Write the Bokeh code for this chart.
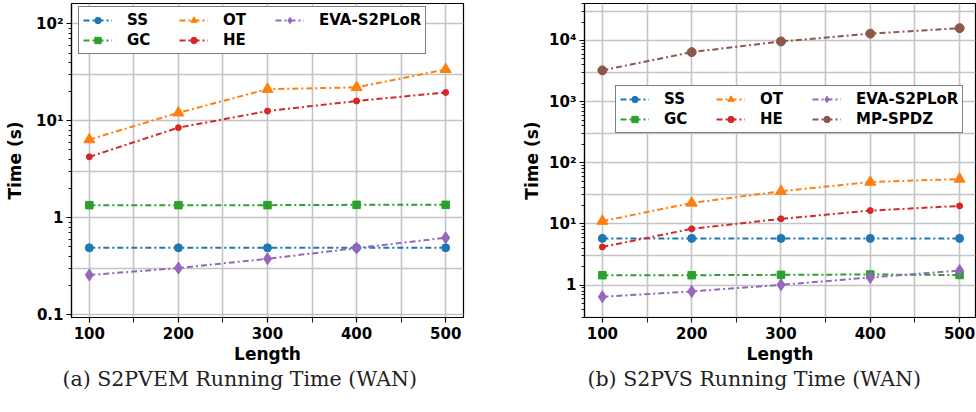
from bokeh.plotting import figure
from bokeh.layouts import row
from bokeh.models import FixedTicker, Legend, LegendItem, Title, Range1d
from bokeh.embed import file_html
from bokeh.resources import INLINE

# ---------------- data ----------------
lengths = [100, 200, 300, 400, 500]
x_ticks = [100, 200, 300, 400, 500]
x_minor = [150, 250, 350, 450]

series_names = ["SS", "GC", "OT", "HE", "EVA-S2PLoR", "MP-SPDZ"]

# (a) S2PVEM Running Time (WAN)
a_ss = [0.49, 0.49, 0.49, 0.49, 0.49]
a_gc = [1.35, 1.35, 1.35, 1.36, 1.36]
a_ot = [6.4, 12.1, 21.2, 22.1, 33.9]
a_he = [4.25, 8.5, 12.6, 16.0, 19.6]
a_eva = [0.257, 0.303, 0.378, 0.487, 0.622]

# (b) S2PVS Running Time (WAN)
b_ss = [5.8, 5.8, 5.8, 5.8, 5.8]
b_gc = [1.45, 1.45, 1.47, 1.49, 1.46]
b_ot = [11.1, 22.0, 34.2, 48.4, 54.2]
b_he = [4.2, 8.3, 12.1, 16.5, 19.7]
b_eva = [0.644, 0.787, 1.01, 1.33, 1.73]
b_mp = [3240, 6440, 9630, 12900, 15900]

a_ytick_vals = [0.1, 1, 10, 100]
a_ytick_labels = ["0.1", "1", "10\u00b9", "10\u00b2"]
b_ytick_vals = [1, 10, 100, 1000, 10000]
b_ytick_labels = ["1", "10\u00b9", "10\u00b2", "10\u00b3", "10\u2074"]

caption_a = "(a) S2PVEM Running Time (WAN)"
caption_b = "(b) S2PVS Running Time (WAN)"
x_label = "Length"
y_label = "Time (s)"

# ---------------- style ----------------
COLORS = {"SS": "#1f77b4", "GC": "#2ca02c", "OT": "#ff7f0e", "HE": "#d62728",
          "EVA-S2PLoR": "#9467bd", "MP-SPDZ": "#8c564b"}
MARKERS = {"SS": ("circle", 8), "GC": ("square", 7.5), "OT": ("triangle", 11),
           "HE": ("circle", 6), "EVA-S2PLoR": ("diamond", 12), "MP-SPDZ": ("circle", 9)}
DASH = "6 3 2 3"
FONT = "DejaVu Sans"
GRID_COLOR = "#c4c4c4"


def log_minor(lo, hi):
    out = []
    for e in range(-3, 7):
        for m in range(2, 10):
            v = m * 10.0 ** e
            if lo <= v <= hi:
                out.append(v)
    return out


def log_grid(lo, hi):
    out = []
    for e in range(-3, 7):
        for m in (1, 3):
            v = m * 10.0 ** e
            if lo <= v <= hi:
                out.append(v)
    return out


def make_panel(series, yr, ytick_vals, ytick_labels, xr, fw, fh, bl, br,
               caption, cap_offset, leg_loc, ylabel_standoff):
    p = figure(frame_width=fw, frame_height=fh, y_axis_type="log",
               x_range=Range1d(*xr), y_range=Range1d(*yr),
               min_border_left=bl, min_border_right=br, min_border_top=3,
               min_border_bottom=77, toolbar_location=None,
               output_backend="svg", background_fill_color="white",
               border_fill_color="white")
    p.outline_line_color = "black"
    p.outline_line_width = 1.2

    p.xaxis.ticker = FixedTicker(ticks=x_ticks, minor_ticks=x_minor)
    p.xgrid.ticker = FixedTicker(ticks=sorted(x_ticks + x_minor))
    p.yaxis.ticker = FixedTicker(ticks=ytick_vals, minor_ticks=log_minor(*yr))
    p.ygrid.ticker = FixedTicker(ticks=log_grid(*yr))
    p.yaxis.major_label_overrides = dict(zip(ytick_vals, ytick_labels))

    for g in (p.xgrid, p.ygrid):
        g.grid_line_color = GRID_COLOR
        g.grid_line_width = 1.6

    for ax in (p.xaxis, p.yaxis):
        ax.axis_line_color = "black"
        ax.axis_line_width = 1.2
        ax.major_tick_line_color = "black"
        ax.minor_tick_line_color = "black"
        ax.major_tick_line_width = 1.2
        ax.minor_tick_line_width = 0.9
        ax.major_tick_in = 0
        ax.minor_tick_in = 0
        ax.major_tick_out = 5
        ax.major_label_text_font = FONT
        ax.major_label_text_font_style = "bold"
        ax.major_label_text_font_size = "15px"
        ax.major_label_text_color = "black"
        ax.axis_label_text_font = FONT
        ax.axis_label_text_font_style = "bold"
        ax.axis_label_text_font_size = "17px"
        ax.axis_label_text_color = "black"
    p.xaxis.minor_tick_out = 5
    p.yaxis.minor_tick_out = 3
    p.xaxis.major_label_standoff = 4
    p.yaxis.major_label_standoff = 3
    p.xaxis.axis_label = x_label
    p.yaxis.axis_label = y_label
    p.xaxis.axis_label_standoff = 2
    p.yaxis.axis_label_standoff = ylabel_standoff

    items = []
    for name, ys in series:
        col = COLORS[name]
        mk, sz = MARKERS[name]
        l = p.line(lengths, ys, line_color=col, line_width=2, line_dash=DASH)
        s = p.scatter(lengths, ys, marker=mk, size=sz, fill_color=col,
                      line_color=col, line_width=1)
        items.append(LegendItem(label=name, renderers=[l, s]))

    leg = Legend(items=items, location=leg_loc, orientation="vertical", nrows=2)
    leg.label_text_font = FONT
    leg.label_text_font_style = "bold"
    leg.label_text_font_size = "15px"
    leg.label_text_color = "black"
    leg.glyph_width = 29
    leg.glyph_height = 16
    leg.label_height = 16
    leg.label_width = 50
    leg.label_standoff = 15
    leg.spacing = 2
    leg.padding = 4
    leg.margin = 0
    leg.border_line_color = "black"
    leg.border_line_width = 1.5
    leg.background_fill_color = "white"
    leg.background_fill_alpha = 1.0
    p.add_layout(leg, "center")

    t = Title(text=caption, align="left", offset=cap_offset,
              vertical_align="top",
              text_font="DejaVu Serif", text_font_style="normal",
              text_font_size="20.5px", text_color="#222222", standoff=0)
    p.add_layout(t, "below")
    return p


pa = make_panel([("SS", a_ss), ("GC", a_gc), ("OT", a_ot), ("HE", a_he),
                 ("EVA-S2PLoR", a_eva)],
                (0.0937, 162), a_ytick_vals, a_ytick_labels, (80, 520),
                392, 314, 71, 22, caption_a, -9, (7, 263), 8)

pb = make_panel([("SS", b_ss), ("GC", b_gc), ("OT", b_ot), ("HE", b_he),
                 ("EVA-S2PLoR", b_eva), ("MP-SPDZ", b_mp)],
                (0.295, 40200), b_ytick_vals, b_ytick_labels, (80, 517.8),
                391, 314, 99, 1, caption_b, 3, (31, 184), 4)

layout = row(pa, pb)

open("out.html", "w").write(file_html(layout, INLINE))
